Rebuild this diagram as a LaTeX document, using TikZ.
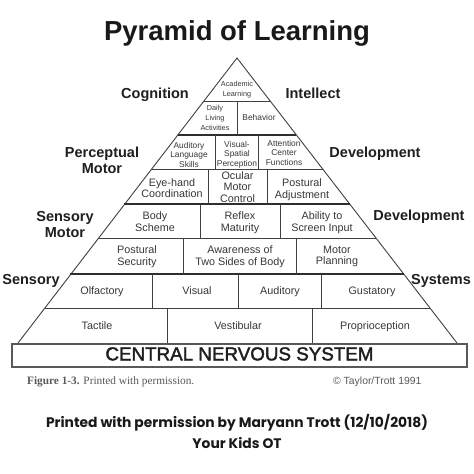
\documentclass[tikz,border=0pt]{standalone}
\usepackage{fontspec}
\setmainfont{Liberation Sans}
\newfontfamily\poppfont{Poppins}
\newfontfamily\capserif{Liberation Serif}
\newfontfamily\cnsfont{Liberation Sans}[FakeBold=2]
\newcommand{\vbal}{\rule[-0.2em]{0pt}{0.92em}}
\begin{document}
\begin{tikzpicture}[x=1pt,y=-1pt,
  thinline/.style={draw=black!75,line width=0.9pt},
  thickline/.style={draw=black!82,line width=2pt},
  balanced/.style={execute at begin node={\vbal},execute at end node={\vbal}},
  celltext/.style={balanced,text=black!78,align=center,inner sep=0pt},
  tiny/.style={celltext,font=\fontsize{7.3}{10}\selectfont},
  smalltxt/.style={celltext,font=\fontsize{8.4}{9.5}\selectfont},
  midtxt/.style={celltext,font=\fontsize{10.8}{11.5}\selectfont},
  sidelabel/.style={balanced,text=black!88,align=center,inner sep=0pt,font=\bfseries\fontsize{14.5}{16}\selectfont}
]
\useasboundingbox[fill=white] (0,0) rectangle (474,474);

% pyramid outline
\coordinate (apex) at (237,58);
\coordinate (bl) at (18,343);
\coordinate (br) at (457,343);
\draw[thinline,line join=miter] (bl) -- (apex) -- (br);

% horizontal rows
\draw[thinline]  (203.8,101) -- (270.2,101);
\draw[thickline] (177.6,135) -- (296.4,135);
\draw[thinline]  (151.4,169) -- (322.6,169);
\draw[thickline] (124.4,204) -- (349.6,204);
\draw[thinline]  (98.2,238) -- (375.8,238);
\draw[thickline] (70.4,274) -- (403.6,274);
\draw[thinline]  (44.2,308) -- (429.8,308);

% vertical dividers
\draw[thinline] (237,101) -- (237,135);
\draw[thinline] (215,135) -- (215,169);
\draw[thinline] (258,135) -- (258,169);
\draw[thinline] (208,169) -- (208,204);
\draw[thinline] (267,169) -- (267,204);
\draw[thinline] (200,204) -- (200,238);
\draw[thinline] (280,204) -- (280,238);
\draw[thinline] (183,238) -- (183,274);
\draw[thinline] (296,238) -- (296,274);
\draw[thinline] (152,274) -- (152,308);
\draw[thinline] (238,274) -- (238,308);
\draw[thinline] (321,274) -- (321,308);
\draw[thinline] (167,308) -- (167,343);
\draw[thinline] (312,308) -- (312,343);

% CNS box
\node[draw=black!65,line width=1.1pt,minimum width=455pt,minimum height=23pt,inner sep=0pt] (cns) at (239.5,355.5) {};
\node[balanced,inner sep=0pt,text=black!88,font=\cnsfont\fontsize{18.8}{19}\selectfont] (cnstext) at (cns.center) {CENTRAL NERVOUS SYSTEM};

% cell texts
\node[tiny] (acad) at (237,90) {Academic\\Learning};
\node[tiny] (daily) at (215,118.5) {Daily\\Living\\Activities};
\node[smalltxt] (behav) at (259,118.5) {Behavior};
\node[smalltxt] (audlang) at (189,155.5) {Auditory\\Language\\Skills};
\node[smalltxt] (visspat) at (237,154.5) {Visual-\\Spatial\\Perception};
\node[smalltxt] (attn) at (284,153.5) {Attention\\Center\\Functions};
\node[midtxt] (eyehand) at (172,189) {Eye-hand\\Coordination};
\node[midtxt] (ocular) at (237.5,188) {Ocular\\Motor\\Control};
\node[midtxt] (postadj) at (302,189.5) {Postural\\Adjustment};
\node[midtxt] (body) at (155,222.5) {Body\\Scheme};
\node[midtxt] (reflex) at (240,222.5) {Reflex\\Maturity};
\node[midtxt] (screen) at (322,222.5) {Ability to\\Screen Input};
\node[midtxt] (postsec) at (137,256.5) {Postural\\Security};
\node[midtxt] (aware) at (240,256.5) {Awareness of\\Two Sides of Body};
\node[midtxt] (motplan) at (337,256.5) {Motor\\Planning};
\node[midtxt] (olf) at (102,292) {Olfactory};
\node[midtxt] (vis) at (197,292) {Visual};
\node[midtxt] (aud) at (280,292) {Auditory};
\node[midtxt] (gust) at (372,292) {Gustatory};
\node[midtxt] (tact) at (97,327) {Tactile};
\node[midtxt] (vest) at (238,327) {Vestibular};
\node[midtxt] (prop) at (375,327) {Proprioception};

% side labels
\node[sidelabel] (cog) at (155,95) {Cognition};
\node[sidelabel] (intel) at (313,95) {Intellect};
\node[sidelabel] (percm) at (102,162) {Perceptual\\Motor};
\node[sidelabel] (dev1) at (375,154) {Development};
\node[sidelabel] (sensm) at (65,226) {Sensory\\Motor};
\node[sidelabel] (dev2) at (419,217) {Development};
\node[sidelabel] (sens) at (31,281) {Sensory};
\node[sidelabel] (syst) at (441,281) {Systems};

% title
\node[balanced,inner sep=0pt,text=black!90,font=\bfseries\fontsize{27.5}{28}\selectfont] (title) at (237,33) {Pyramid of Learning};

% caption
\node[anchor=west,balanced,inner sep=0pt,text=black!65,font=\capserif\fontsize{11.3}{12}\selectfont] (capt) at (27,382) {\textbf{Figure 1-3.} Printed with permission.};
\node[anchor=west,balanced,inner sep=0pt,text=black!65,font=\fontsize{10.4}{11}\selectfont] (copy) at (333,382) {© Taylor/Trott 1991};

% bottom credit
\node[balanced,inner sep=0pt,text=black!90,font=\poppfont\bfseries\fontsize{13.85}{14}\selectfont] (credit1) at (237,423) {Printed with permission by Maryann Trott (12/10/2018)};
\node[balanced,inner sep=0pt,text=black!90,font=\poppfont\bfseries\fontsize{13.85}{14}\selectfont] (credit2) at (237,444) {Your Kids OT};
\end{tikzpicture}
\end{document}
